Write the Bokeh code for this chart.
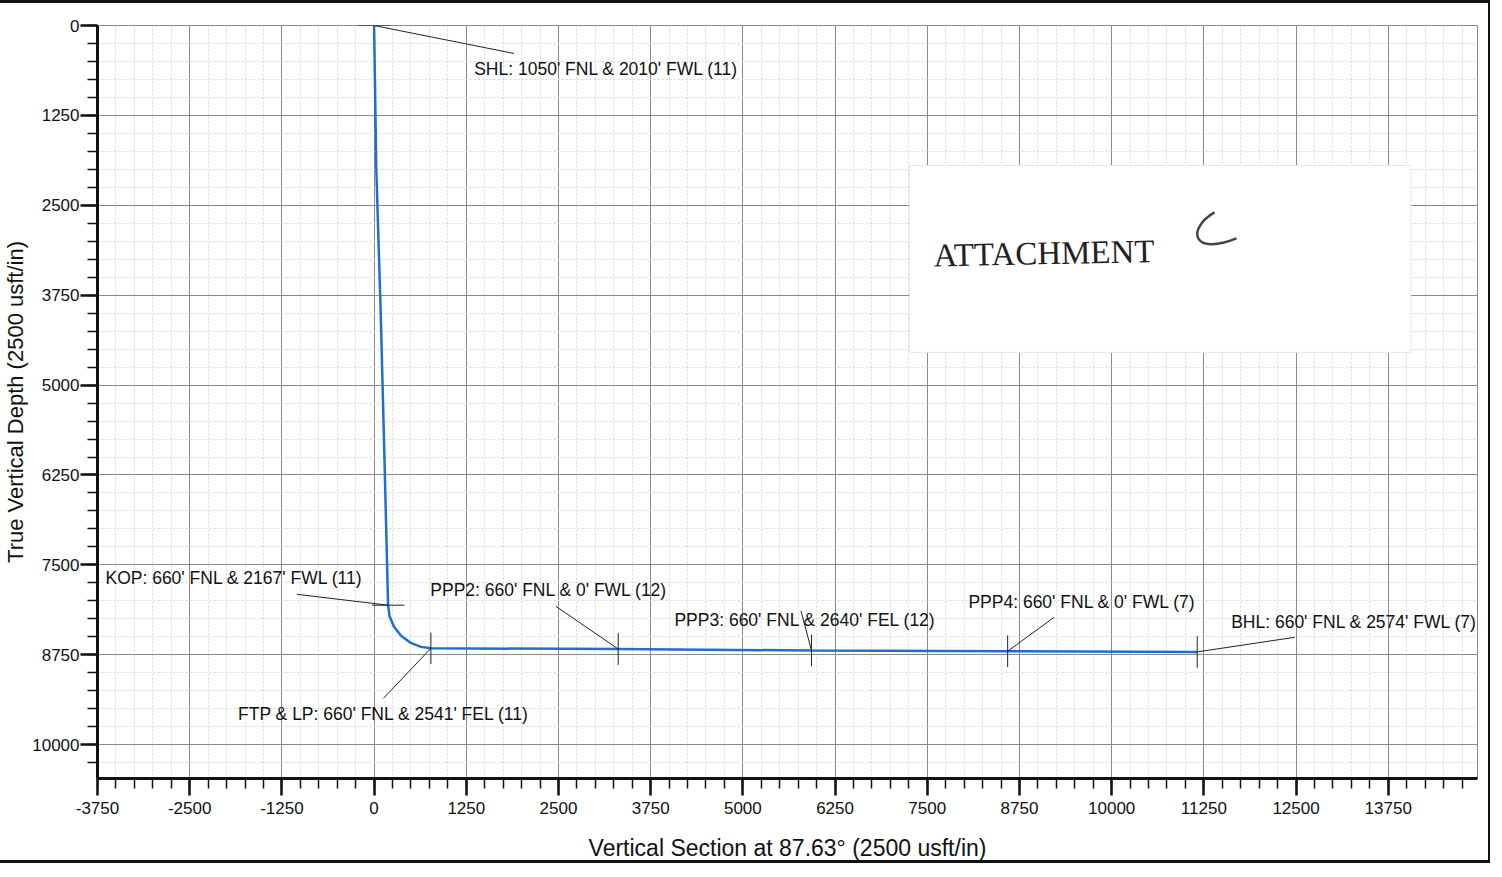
from bokeh.plotting import figure
from bokeh.models import FixedTicker, Range1d, Label, PrintfTickFormatter
from bokeh.embed import file_html
from bokeh.resources import INLINE
from bokeh.core.properties import value

# ---------------- data ----------------
x_major_ticks = [-3750, -2500, -1250, 0, 1250, 2500, 3750, 5000, 6250, 7500, 8750, 10000, 11250, 12500, 13750]
y_major_ticks = [0, 1250, 2500, 3750, 5000, 6250, 7500, 8750, 10000]
x_minor_ticks = list(range(-3750, 15000, 250))
y_minor_ticks = list(range(0, 10500, 250))

# well path: vertical section (usft) and true vertical depth (usft)
path_vs = [0, 30, 90, 140, 190, 210, 270, 366, 490, 635, 770, 3310, 5930, 8590, 11160]
path_tvd = [0, 2000, 4000, 6000, 8060, 8215, 8360, 8484, 8580, 8640, 8660, 8670, 8690, 8700, 8710]

# annotated points
pt_names = ["SHL", "KOP", "FTP & LP", "PPP2", "PPP3", "PPP4", "BHL"]
pt_labels = ["SHL: 1050' FNL & 2010' FWL (11)",
             "KOP: 660' FNL & 2167' FWL (11)",
             "FTP & LP: 660' FNL & 2541' FEL (11)",
             "PPP2: 660' FNL & 0' FWL (12)",
             "PPP3: 660' FNL & 2640' FEL (12)",
             "PPP4: 660' FNL & 0' FWL (7)",
             "BHL: 660' FNL & 2574' FWL (7)"]
pt_vs = [0, 190, 770, 3310, 5930, 8590, 11160]
pt_tvd = [0, 8060, 8660, 8670, 8690, 8700, 8710]

# label layout (data units)
lab_x = [1357, -3642, -1845, 762, 4072, 8058, 11620]
lab_y = [598, 7687, 9577, 7854, 8271, 8020, 8298]
lead_x = [1897, -1048, 127, 2465, 5788, 9220, 12480]
lead_y = [389, 7909, 9355, 8076, 8140, 8229, 8507]
tick_kind = ["h", "h", "v", "v", "v", "v", "v"]

FONT = "Liberation Sans"

p = figure(width=1490, height=863, output_backend="svg", toolbar_location=None,
           x_range=Range1d(-3750, 14960), y_range=Range1d(10470, 0),
           min_border_left=89, min_border_top=22, min_border_right=13, min_border_bottom=88)

p.background_fill_color = "white"
p.border_fill_color = "white"
p.outline_line_color = "#8a8a8a"
p.outline_line_width = 1

# axes
p.xaxis.ticker = FixedTicker(ticks=x_major_ticks, minor_ticks=x_minor_ticks)
p.yaxis.ticker = FixedTicker(ticks=y_major_ticks, minor_ticks=y_minor_ticks)
for ax in (p.xaxis[0], p.yaxis[0]):
    ax.formatter = PrintfTickFormatter(format="%d")
    ax.axis_line_width = 3
    ax.axis_line_color = "#111111"
    ax.major_tick_line_width = 2.5
    ax.major_tick_line_color = "#111111"
    ax.minor_tick_line_width = 1.5
    ax.minor_tick_line_color = "#111111"
    ax.major_tick_in = 0
    ax.minor_tick_in = 0
    ax.major_tick_out = 17
    ax.minor_tick_out = 10
    ax.major_label_text_font = FONT
    ax.major_label_text_font_size = "17px"
    ax.major_label_text_color = "#111111"
    ax.axis_label_text_font = FONT
    ax.axis_label_text_font_style = "normal"
    ax.axis_label_text_color = "#111111"
p.xaxis.major_label_standoff = 6
p.yaxis.major_label_standoff = 1
p.xaxis.axis_label = "Vertical Section at 87.63\u00b0 (2500 usft/in)"
p.yaxis.axis_label = "True Vertical Depth (2500 usft/in)"
p.xaxis.axis_label_text_font_size = "23px"
p.yaxis.axis_label_text_font_size = "22px"
p.xaxis.axis_label_standoff = 18
p.yaxis.axis_label_standoff = 1

# grids
for g in (p.xgrid[0], p.ygrid[0]):
    g.grid_line_color = "#8a8a8a"
    g.grid_line_width = 1
    g.minor_grid_line_color = "#d6d6d6"
    g.minor_grid_line_dash = "2 2"
    g.minor_grid_line_width = 1

# attachment sheet covering part of the chart
p.quad(left=[7261], right=[14056], top=[1946], bottom=[4545],
       fill_color="white", line_color="#e6e6e6", line_width=1)
p.add_layout(Label(x=7585, y=3197, text="ATTACHMENT", text_font="Liberation Serif",
                   text_font_size="33px", text_color="#222222", text_baseline="middle",
                   angle=0.02))
p.bezier(x0=[11395], y0=[2599], x1=[11692], y1=[2961], cx0=[11016], cy0=[2822],
         cx1=[11084], cy1=[3211], line_color="#444444", line_width=2.5)

# well path
p.line(path_vs, path_tvd, line_color="#1f6fd0", line_width=2.5)

# leader lines and point ticks
p.segment(x0=lead_x, y0=lead_y, x1=pt_vs, y1=pt_tvd, line_color="#222222", line_width=1)
hx = [x for x, k in zip(pt_vs, tick_kind) if k == "h"]
hy = [y for y, k in zip(pt_tvd, tick_kind) if k == "h"]
vx = [x for x, k in zip(pt_vs, tick_kind) if k == "v"]
vy = [y for y, k in zip(pt_tvd, tick_kind) if k == "v"]
p.segment(x0=[x - 220 for x in hx], y0=hy, x1=[x + 220 for x in hx], y1=hy,
          line_color="#222222", line_width=1)
p.segment(x0=vx, y0=[y - 220 for y in vy], x1=vx, y1=[y + 220 for y in vy],
          line_color="#222222", line_width=1)

for t, x, y in zip(pt_labels, lab_x, lab_y):
    p.add_layout(Label(x=x, y=y, text=t, text_font=FONT, text_font_size="17.5px",
                       text_color="#111111", text_baseline="middle", text_align="left"))

p.styles = {"border-top": "3px solid #111", "border-bottom": "3px solid #111",
            "border-right": "2px solid #111"}

open("out.html", "w").write(file_html(p, INLINE))
